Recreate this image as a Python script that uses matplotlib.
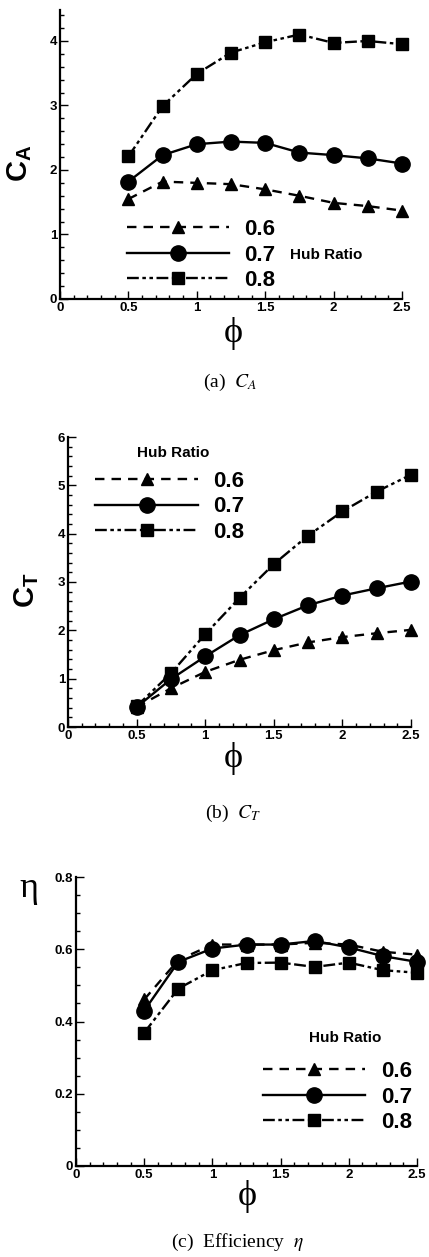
import numpy as np
import matplotlib.pyplot as plt
from matplotlib.ticker import MultipleLocator

plt.rcParams['font.family'] = ['Liberation Sans', 'DejaVu Sans']
plt.rcParams['mathtext.fontset'] = 'custom'
plt.rcParams['mathtext.bf'] = 'Liberation Sans:bold'
plt.rcParams['mathtext.rm'] = 'Liberation Sans'

# data
phi = [0.5, 0.75, 1.0, 1.25, 1.5, 1.75, 2.0, 2.25, 2.5]
hub_ratios = ['0.6', '0.7', '0.8']

ca_06 = [1.55, 1.82, 1.80, 1.78, 1.70, 1.60, 1.49, 1.44, 1.37]
ca_07 = [1.82, 2.23, 2.40, 2.44, 2.42, 2.27, 2.23, 2.18, 2.10]
ca_08 = [2.21, 2.99, 3.49, 3.82, 3.98, 4.10, 3.97, 4.00, 3.95]

ct_06 = [0.41, 0.80, 1.14, 1.39, 1.59, 1.75, 1.86, 1.94, 2.01]
ct_07 = [0.41, 0.99, 1.46, 1.90, 2.23, 2.52, 2.72, 2.87, 3.01]
ct_08 = [0.43, 1.11, 1.92, 2.67, 3.37, 3.96, 4.46, 4.87, 5.22]

eta_06 = [0.461, 0.570, 0.613, 0.613, 0.613, 0.618, 0.613, 0.593, 0.585]
eta_07 = [0.430, 0.565, 0.602, 0.613, 0.613, 0.623, 0.605, 0.581, 0.565]
eta_08 = [0.369, 0.491, 0.542, 0.562, 0.563, 0.551, 0.563, 0.542, 0.535]

styles = [
    dict(ls=(0, (4, 3)), marker='^', ms=8.5),
    dict(ls='-', marker='o', ms=11),
    dict(ls=(0, (5, 1.5, 1.5, 1.5, 1.5, 1.5)), marker='s', ms=8),
]

W, H = 429, 1257
fig = plt.figure(figsize=(W / 100, H / 100), dpi=100)


def px_axes(x0, x1, y_top, y_bot):
    return fig.add_axes([x0 / W, 1 - y_bot / H, (x1 - x0) / W, (y_bot - y_top) / H])


def style_axes(ax, ymax, ymaj, ymin):
    ax.set_xlim(0, 2.5)
    ax.set_ylim(0, ymax)
    for s in ['top', 'right']:
        ax.spines[s].set_visible(False)
    for s in ['left', 'bottom']:
        ax.spines[s].set_linewidth(1.6)
    ax.xaxis.set_major_locator(MultipleLocator(0.5))
    ax.xaxis.set_minor_locator(MultipleLocator(0.1))
    ax.yaxis.set_major_locator(MultipleLocator(ymaj))
    ax.yaxis.set_minor_locator(MultipleLocator(ymin))
    ax.tick_params(which='both', direction='in', width=1)
    ax.tick_params(which='major', length=6, labelsize=9.5, pad=2)
    ax.tick_params(which='minor', length=3)
    ax.xaxis.set_major_formatter(plt.FuncFormatter(lambda v, p: f'{v:g}'))
    ax.yaxis.set_major_formatter(plt.FuncFormatter(lambda v, p: f'{v:g}'))
    for lab in ax.get_xticklabels() + ax.get_yticklabels():
        lab.set_fontweight('bold')


def draw(ax, series):
    lines = []
    for ys, st in zip(series, styles):
        ln, = ax.plot(phi, ys, color='black', lw=1.7, linestyle=st['ls'],
                      marker=st['marker'], ms=st['ms'], mfc='black', mec='black',
                      clip_on=False)
        lines.append(ln)
    return lines


def legend(ax, lines, x, y):
    leg = ax.legend(lines, hub_ratios, loc='center left', bbox_to_anchor=(x, y),
                    frameon=False, handlelength=4.6, handletextpad=0.7,
                    labelspacing=0.2, borderpad=0, borderaxespad=0,
                    numpoints=1, prop=dict(size=16, weight='bold'))
    return leg


serif = ['Liberation Serif', 'DejaVu Serif']

# (a) C_A
ax1 = px_axes(60, 402, 10, 299)
style_axes(ax1, 4.48, 1, 0.2)
l1 = draw(ax1, [ca_06, ca_07, ca_08])
legend(ax1, l1, 0.195, 0.152)
ax1.text(0.673, 0.152, 'Hub Ratio', transform=ax1.transAxes, fontsize=11,
         fontweight='bold', va='center')
ax1.text(-0.117, 0.47, r'$\mathbf{C}_\mathbf{A}$', transform=ax1.transAxes,
         fontsize=21, rotation=90, ha='center', va='center')
ax1.text(0.506, -0.121, 'ϕ', transform=ax1.transAxes, fontsize=26,
         family=serif, ha='center', va='center')
fig.text(230 / W, 1 - 382 / H, r'(a)  $C_A$', family=serif, fontsize=14,
         math_fontfamily='stix', ha='center', va='center')

# (b) C_T
ax2 = px_axes(68, 411, 437, 727)
style_axes(ax2, 6, 1, 0.2)
l2 = draw(ax2, [ct_06, ct_07, ct_08])
legend(ax2, l2, 0.08, 0.759)
ax2.text(0.306, 0.946, 'Hub Ratio', transform=ax2.transAxes, fontsize=11,
         fontweight='bold', ha='center', va='center')
ax2.text(-0.12, 0.473, r'$\mathbf{C}_\mathbf{T}$', transform=ax2.transAxes,
         fontsize=21, rotation=90, ha='center', va='center')
ax2.text(0.481, -0.107, 'ϕ', transform=ax2.transAxes, fontsize=26,
         family=serif, ha='center', va='center')
fig.text(233 / W, 1 - 813 / H, r'(b)  $C_T$', family=serif, fontsize=14,
         math_fontfamily='stix', ha='center', va='center')

# (c) efficiency
ax3 = px_axes(76, 417, 877, 1166)
style_axes(ax3, 0.8, 0.2, 0.05)
l3 = draw(ax3, [eta_06, eta_07, eta_08])
legend(ax3, l3, 0.548, 0.2385)
ax3.text(0.789, 0.442, 'Hub Ratio', transform=ax3.transAxes, fontsize=11,
         fontweight='bold', ha='center', va='center')
ax3.text(-0.138, 0.961, 'η', transform=ax3.transAxes, fontsize=26,
         family=serif, ha='center', va='center')
ax3.text(0.501, -0.107, 'ϕ', transform=ax3.transAxes, fontsize=26,
         family=serif, ha='center', va='center')
fig.text(237 / W, 1 - 1242 / H, r'(c)  Efficiency  $\eta$', family=serif,
         fontsize=14, math_fontfamily='stix', ha='center', va='center')

fig.savefig('out.png', dpi=100)
